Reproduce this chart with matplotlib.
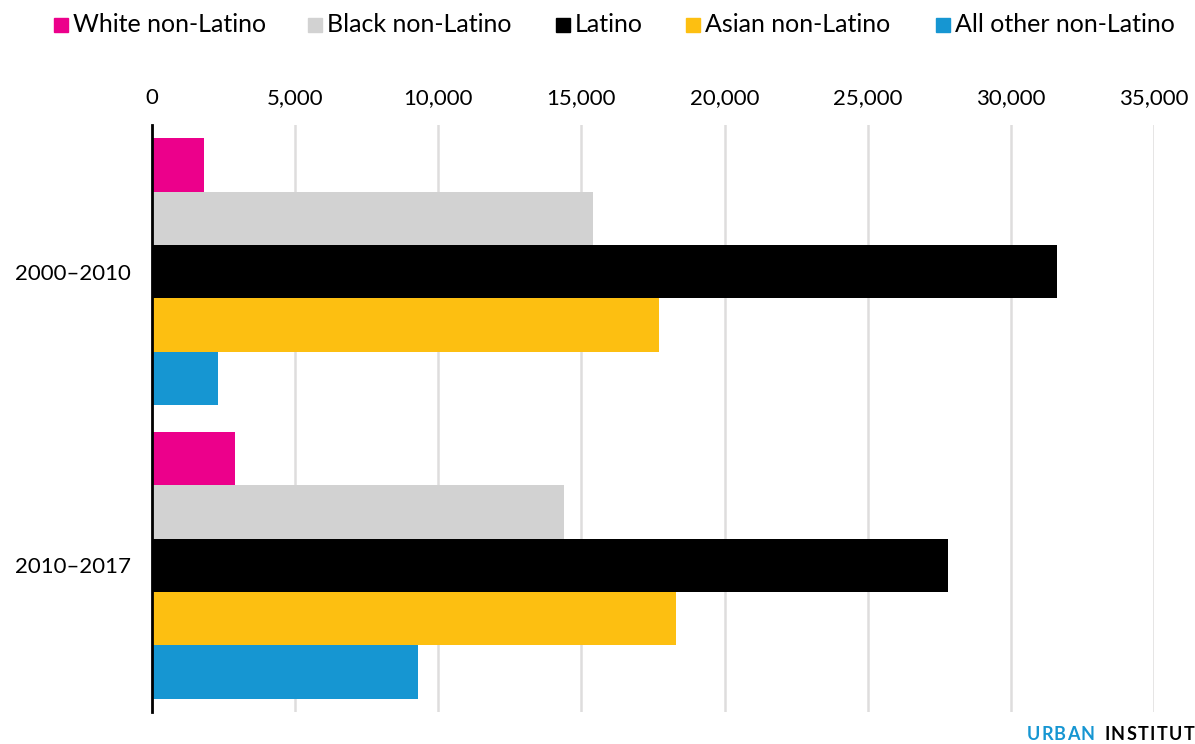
import matplotlib.pyplot as plt
import numpy as np
from matplotlib.patches import Rectangle
from matplotlib.ticker import FuncFormatter

plt.rcParams["font.family"] = ["Lato", "DejaVu Sans"]

periods = ["2000–2010", "2010–2017"]
groups = ["White non-Latino", "Black non-Latino", "Latino", "Asian non-Latino", "All other non-Latino"]
colors = ["#ec008b", "#d2d2d2", "#000000", "#fdbf11", "#1696d2"]
# population change per period, one list per group
white = [1800, 2900]
black = [15400, 14400]
latino = [31600, 27800]
asian = [17700, 18300]
other = [2300, 9300]
values = [white, black, latino, asian, other]

W, H = 1195, 744
fig = plt.figure(figsize=(W / 100, H / 100), dpi=100)
ax = fig.add_axes([152 / W, 1 - 712 / H, (1154 - 152) / W, (712 - 125) / H])

n = len(groups)
gap = 0.5
for pi, period in enumerate(periods):
    base = pi * (n + gap)
    for gi in range(n):
        ax.barh(base + gi + 0.5, values[gi][pi], height=1.0, color=colors[gi],
                zorder=3, linewidth=0)

centers = [pi * (n + gap) + n / 2 for pi in range(len(periods))]
ax.set_yticks(centers)
ax.set_yticklabels(periods, fontsize=16)
ax.set_ylim(len(periods) * n + (len(periods) - 1) * gap + 0.25, -0.25)

ax.set_xlim(0, 35000)
ax.set_xticks(np.arange(0, 35001, 5000))
ax.xaxis.set_major_formatter(FuncFormatter(lambda v, p: f"{int(v):,}"))
ax.xaxis.tick_top()
ax.tick_params(axis="x", length=0, pad=12, labelsize=16)
ax.tick_params(axis="y", length=0, pad=15)
ax.grid(axis="x", color="#dedddd", linewidth=1.8, zorder=0)
ax.set_axisbelow(True)
for s in ["top", "right", "bottom"]:
    ax.spines[s].set_visible(False)
ax.spines["left"].set_linewidth(2)
ax.spines["left"].set_zorder(4)

# legend row across the top
sq_x = [54, 308, 556, 686, 936]
for x0, label, c in zip(sq_x, groups, colors):
    fig.patches.append(Rectangle((x0 / W, 1 - 32 / H), 14 / W, 14 / H,
                                 transform=fig.transFigure, color=c))
    fig.text((x0 + 19) / W, 1 - 24 / H, label, fontsize=18, va="center", ha="left")


def spaced(x, y, s, color, tracking=2.0, size=13):
    """Draw letter-spaced bold text starting at pixel x; returns end x."""
    renderer = fig.canvas.get_renderer()
    for ch in s:
        t = fig.text(x / W, 1 - y / H, ch, fontsize=size, fontweight="bold",
                     color=color, va="center", ha="left")
        x += t.get_window_extent(renderer).width + tracking
    return x


spaced(1027, 734, "URBAN", "#1696d2", tracking=1.0)
spaced(1104, 734, "INSTITUT", "#000000", tracking=1.4)

fig.savefig("out.png", dpi=100)
